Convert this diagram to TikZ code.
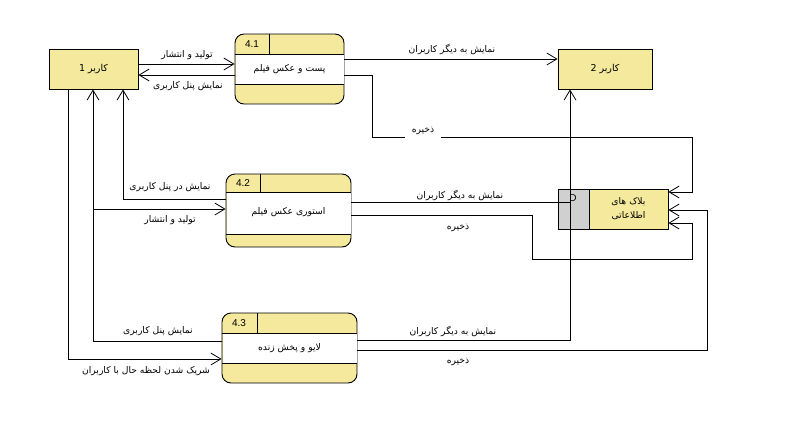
\documentclass[tikz,border=0pt]{standalone}
\usepackage{fontspec}
\setmainfont{Liberation Sans}
\newfontfamily\fa[Script=Arabic]{DejaVu Sans}
\TeXXeTstate=1
\usetikzlibrary{arrows.meta}
\definecolor{boxyel}{HTML}{F4E99C}
\definecolor{storegray}{HTML}{D0D0D0}
\newcommand{\pt}[1]{{\fa\fontsize{9.2}{10}\selectfont\beginR #1\endR}}
\tikzset{
  conn/.style={line width=0.8pt},
  arr/.style={conn,-{Straight Barb[length=10pt,width=12pt,line width=0.8pt]}},
  entity/.style={draw,line width=0.9pt,fill=boxyel,inner sep=0pt},
  proc/.style={draw,line width=0.9pt,fill=boxyel,rounded corners=9pt,inner sep=0pt},
  lbl/.style={inner sep=1pt},
  num/.style={font=\fontsize{10}{11}\selectfont,inner sep=0pt},
}
\begin{document}
\begin{tikzpicture}[x=1pt,y=-1pt]
\useasboundingbox (0,0) rectangle (786,423);
% entities
\node[entity,minimum width=89pt,minimum height=40pt] (u1) at (93.5,69) {};
\node[num] at (93.5,69) {\fa\fontsize{9.5}{11}\selectfont\beginR کاربر 1\endR};
\node[entity,minimum width=94pt,minimum height=40pt] (u2) at (605,69) {};
\node[num] at (605,69) {\fa\fontsize{9.5}{11}\selectfont\beginR کاربر 2\endR};
% process 4.1
\node[proc,minimum width=109pt,minimum height=70pt] (p1) at (289.5,69) {};
\fill[white] (235.5,54) rectangle (343.5,84);
\draw[line width=0.9pt] (235,54) -- (344,54) (235,84) -- (344,84) (269,34) -- (269,54);
\node[num] at (252,44) {4.1};
\node at (289.5,69) {\pt{پست و عکس فیلم}};
% process 4.2
\node[proc,minimum width=125pt,minimum height=73pt] (p2) at (288.5,210.5) {};
\fill[white] (226.5,192) rectangle (350.5,234);
\draw[line width=0.9pt] (226,192) -- (351,192) (226,234) -- (351,234) (260,174) -- (260,192);
\node[num] at (243,183) {4.2};
\node at (288.5,212) {\pt{استوری عکس فیلم}};
% process 4.3
\node[proc,minimum width=135pt,minimum height=70pt] (p3) at (289.5,348) {};
\fill[white] (222.5,333) rectangle (356.5,363);
\draw[line width=0.9pt] (222,333) -- (357,333) (222,363) -- (357,363) (257,313) -- (257,333);
\node[num] at (239,323) {4.3};
\node at (289.5,348) {\pt{لایو و پخش زنده}};
% data store
\node[entity,minimum width=110pt,minimum height=40pt] (st) at (613,209) {};
\fill[storegray] (558.5,189.5) rectangle (589,228.5);
\draw[line width=0.9pt] (558,189) rectangle (668,229) (589,189) -- (589,229);
\node[num] at (573,198) {D};
\node at (628.5,202) {\pt{بلاک های}};
\node at (628.5,216) {\pt{اطلاعاتی}};
% connectors around user 1 and 4.1
\draw[arr] (u1.east |- 0,64) -- (p1.west |- 0,64);
\draw[arr] (p1.west |- 0,75) -- (u1.east |- 0,75);
\draw[arr] (p1.east |- 0,59) -- (u2.west |- 0,59);
\draw[arr] (p1.east |- 0,75) -- (372,75) -- (372,137) -- (692,137) -- (692,192) -- (st.east |- 0,192);
% user 1 verticals
\draw[arr] (p2.west |- 0,199) -- (123,199) -- (u1.south -| 123,0);
\draw[arr] (p3.west |- 0,341) -- (93,341) -- (u1.south -| 93,0);
\draw[arr] (93,209) -- (p2.west |- 0,209);
\draw[arr] (u1.south -| 68,0) -- (68,359) -- (p3.west |- 0,359);
% to user 2 and store
\draw[arr] (p3.east |- 0,340) -- (570,340) -- (u2.south -| 570,0);
\draw[conn] (p2.east |- 0,202) -- (570,202);
\draw[arr] (p2.east |- 0,215) -- (532,215) -- (532,259) -- (692,259) -- (692,223) -- (st.east |- 0,223);
\draw[arr] (p3.east |- 0,350) -- (707,350) -- (707,210) -- (st.east |- 0,210);
% labels
\node[lbl] at (187,55) {\pt{تولید و انتشار}};
\node[lbl] at (188,86) {\pt{نمایش پنل کاربری}};
\node[lbl] at (452,50) {\pt{نمایش به دیگر کاربران}};
\node[lbl,fill=white,inner xsep=7pt,inner ysep=3pt] at (423,131) {\pt{ذخیره}};
\node[lbl] at (170,187) {\pt{نمایش در پنل کاربری}};
\node[lbl] at (170,220) {\pt{تولید و انتشار}};
\node[lbl] at (460,195) {\pt{نمایش به دیگر کاربران}};
\node[lbl] at (458,228) {\pt{ذخیره}};
\node[lbl] at (158,331) {\pt{نمایش پنل کاربری}};
\node[lbl] at (146,371) {\pt{شریک شدن لحظه حال با کاربران}};
\node[lbl] at (453,331) {\pt{نمایش به دیگر کاربران}};
\node[lbl] at (458,362) {\pt{ذخیره}};
\end{tikzpicture}
\end{document}
